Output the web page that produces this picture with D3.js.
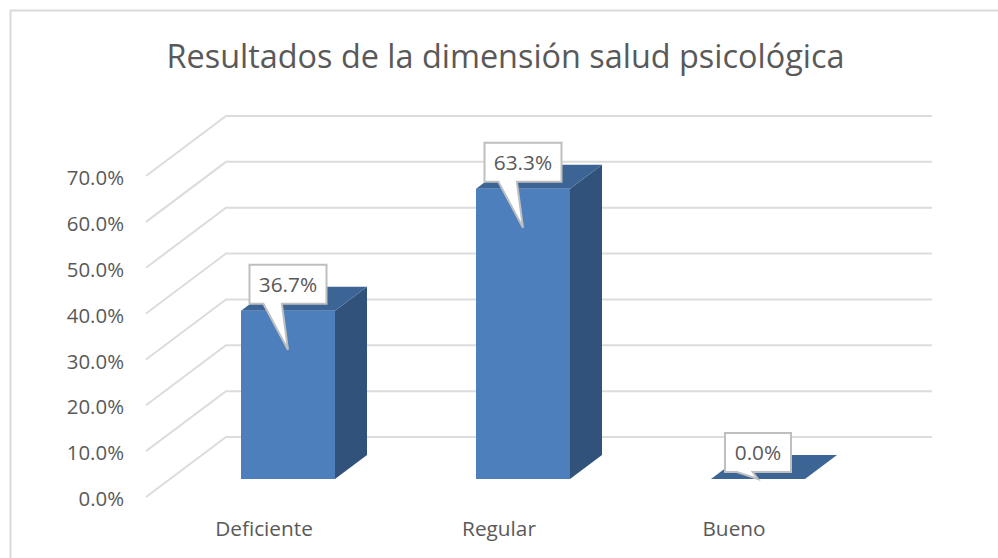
<!DOCTYPE html>
<html>
<head>
<meta charset="utf-8">
<script src="https://cdn.jsdelivr.net/npm/d3@7"></script>
<style>
  html, body { margin: 0; padding: 0; background: #fff; }
  svg { display: block; }
  text { font-family: "Open Sans", sans-serif; fill: #595959; }
  .domain { display: none; }
</style>
</head>
<body>
<div id="chart"></div>
<script>
const categories = ["Deficiente", "Regular", "Bueno"];
const values = [36.7, 63.3, 0.0];
const yTicks = [0, 10, 20, 30, 40, 50, 60, 70];
const titleText = "Resultados de la dimensión salud psicológica";

const width = 998, height = 558;

const svg = d3.select("#chart").append("svg")
    .attr("width", width)
    .attr("height", height);

// chart frame, runs off the right and bottom of the picture
svg.append("path")
    .attr("d", "M10.5," + height + "V10.5H" + width)
    .attr("fill", "none")
    .attr("stroke", "#d9d9d9")
    .attr("stroke-width", 2);

svg.append("text")
    .attr("x", 505.5)
    .attr("y", 68)
    .attr("text-anchor", "middle")
    .style("font-size", "32.4px")
    .text(titleText);

// front plane scales
const x = d3.scaleBand().domain(categories).range([146.5, 851.5]);
const y = d3.scaleLinear().domain([0, 70]).range([497, 176]);

// fake 3d: how far a point at depth 0..1 moves back
const depthX = d3.scaleLinear().domain([0, 1]).range([0, 80]);
const depthY = d3.scaleLinear().domain([0, 1]).range([0, -60]);
const wallRight = 932;
const barWidth = 94, depthFront = 0.3, depthBack = 0.7;

// gridlines on the floor side and back wall
const grid = svg.append("g")
    .attr("fill", "none")
    .attr("stroke", "#dcdcdc")
    .attr("stroke-width", 2);

grid.selectAll("path")
    .data(yTicks)
    .join("path")
    .attr("d", d => d3.line()([
        [x.range()[0] - 0.5, y(d)],
        [x.range()[0] - 0.5 + depthX(1), y(d) + depthY(1)],
        [wallRight, y(d) + depthY(1)]
    ]));

// y labels
svg.append("g")
    .attr("transform", "translate(135,0)")
    .call(d3.axisLeft(y).tickValues(yTicks).tickSize(0).tickPadding(11).tickFormat(d => d.toFixed(1) + "%"))
    .call(g => g.selectAll("text").style("font-size", "20.4px").attr("dy", "0.42em"));

// category labels
svg.append("g")
    .attr("transform", "translate(0,528)")
    .call(d3.axisBottom(x).tickSize(0).tickPadding(0))
    .call(g => g.selectAll("text").style("font-size", "20.8px").attr("dy", "0.36em").attr("y", 0));

const bars = svg.append("g").selectAll("g")
    .data(categories.map((c, i) => ({ name: c, value: values[i] })))
    .join("g");

const barLeft = d => x(d.name) + x.bandwidth() / 2 - barWidth / 2 + depthX(depthFront);
const barBase = y(0) + depthY(depthFront);
const barTop = d => y(d.value) + depthY(depthFront);
const offX = depthX(depthBack) - depthX(depthFront);
const offY = depthY(depthBack) - depthY(depthFront);

// side
bars.filter(d => d.value > 0).append("path")
    .attr("fill", "#30527b")
    .attr("d", d => d3.line()([
        [barLeft(d) + barWidth, barTop(d)],
        [barLeft(d) + barWidth + offX, barTop(d) + offY],
        [barLeft(d) + barWidth + offX, barBase + offY],
        [barLeft(d) + barWidth, barBase]
    ]) + "Z");

// top
bars.append("path")
    .attr("fill", "#3c6595")
    .attr("d", d => d3.line()([
        [barLeft(d), barTop(d)],
        [barLeft(d) + offX, barTop(d) + offY],
        [barLeft(d) + barWidth + offX, barTop(d) + offY],
        [barLeft(d) + barWidth, barTop(d)]
    ]) + "Z");

// front
bars.filter(d => d.value > 0).append("rect")
    .attr("fill", "#4d7fbc")
    .attr("x", d => barLeft(d))
    .attr("y", d => barTop(d))
    .attr("width", barWidth)
    .attr("height", d => barBase - barTop(d));

// callout labels
const boxHeight = 39;
bars.each(function(d) {
    const g = d3.select(this);
    const cx = barLeft(d) + barWidth / 2;
    const label = d.value.toFixed(1) + "%";
    const boxW = label.length > 4 ? 77 : 66;
    const boxTop = barTop(d) - 46;
    const boxBottom = boxTop + boxHeight;
    const tipY = Math.min(barTop(d) + 39, barBase);
    const l = cx - boxW / 2, r = cx + boxW / 2;
    const baseA = l + boxW * 0.18, baseB = l + boxW * 0.42;
    g.append("path")
        .attr("fill", "#fff")
        .attr("stroke", "#bfbfbf")
        .attr("stroke-width", 2)
        .attr("d", d3.line()([
            [l, boxTop], [r, boxTop], [r, boxBottom],
            [baseB, boxBottom], [cx, tipY], [baseA, boxBottom],
            [l, boxBottom]
        ]) + "Z");
    g.append("text")
        .attr("x", cx)
        .attr("y", boxTop + boxHeight / 2)
        .attr("dy", "0.36em")
        .attr("text-anchor", "middle")
        .style("font-size", "20.8px")
        .text(label);
});
</script>
</body>
</html>
